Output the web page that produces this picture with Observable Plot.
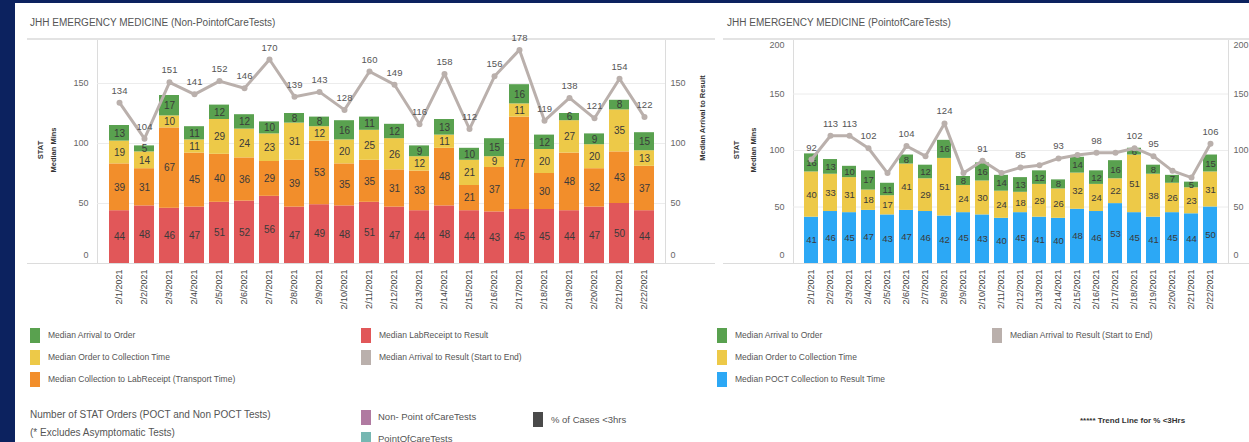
<!DOCTYPE html>
<html><head><meta charset="utf-8">
<script src="https://cdn.jsdelivr.net/npm/d3@7"></script>
<script src="https://cdn.jsdelivr.net/npm/@observablehq/plot@0.6"></script>
<style>
html,body{margin:0;padding:0;}
body{width:1249px;height:442px;overflow:hidden;background:#fff;position:relative;font-family:"Liberation Sans",Arial,sans-serif;color:#555;}
.a{position:absolute;white-space:nowrap;}
.title{font-size:10px;color:#555;}
.sep{background:#e3e3e3;height:2px;}
.ln{background:#dcdcdc;}
.sw{width:10px;height:15px;}
.lg{font-size:8.5px;color:#555;line-height:15px;}
.rot{transform:translate(-50%,-50%) rotate(-90deg);text-align:center;font-weight:bold;font-size:7.5px;color:#333;}
.chart svg{display:block;overflow:visible;}
</style></head><body>
<script>
// ---------- data ----------
const dates = ["2/1/2021","2/2/2021","2/3/2021","2/4/2021","2/5/2021","2/6/2021","2/7/2021","2/8/2021","2/9/2021","2/10/2021","2/11/2021","2/12/2021","2/13/2021","2/14/2021","2/15/2021","2/16/2021","2/17/2021","2/18/2021","2/19/2021","2/20/2021","2/21/2021","2/22/2021"];

// Non-Point-of-Care tests (stack order bottom -> top)
const npSeries = ["Median LabReceipt to Result","Median Collection to LabReceipt (Transport Time)","Median Order to Collection Time","Median Arrival to Order"];
const npLabReceiptToResult = [44,48,46,47,51,52,56,47,49,48,51,47,44,48,44,43,45,45,44,47,50,44];
const npTransport        = [39,31,67,45,40,36,29,39,53,35,35,31,33,48,21,37,77,30,48,32,43,37];
const npOrderToCollection = [19,14,10,11,29,24,23,31,12,20,25,26,12,11,21,9,11,20,27,20,35,13];
const npArrivalToOrder   = [13,5,17,11,12,12,10,8,8,16,11,12,9,13,10,15,16,12,6,9,8,15];
const npArrivalToResult  = [134,104,151,141,152,146,170,139,143,128,160,149,116,158,112,156,178,119,138,121,154,122];

// Point-of-Care tests (stack order bottom -> top)
const pocSeries = ["Median POCT Collection to Result Time","Median Order to Collection Time","Median Arrival to Order"];
const pocCollectionToResult = [41,46,45,47,43,47,46,42,45,43,40,45,41,40,48,46,53,45,41,45,44,50];
const pocOrderToCollection  = [40,33,31,18,17,41,29,51,24,30,24,18,29,26,32,24,22,51,38,26,23,31];
const pocArrivalToOrder     = [16,13,10,17,11,8,12,16,8,16,14,13,12,8,14,12,16,6,8,7,5,15];
const pocArrivalToResult    = [92,113,113,102,80,104,95,124,80,91,80,85,87,93,96,98,98,102,95,82,76,106];
const pocLabeledDates = ["2/1/2021","2/2/2021","2/3/2021","2/4/2021","2/6/2021","2/8/2021","2/10/2021","2/12/2021","2/14/2021","2/16/2021","2/18/2021","2/19/2021","2/22/2021"];

const yTicksNP = [0,50,100,150];
const yTicksPOC = [0,50,100,150,200];

// ---------- styles ----------
const C = {green:"#59a14f", yellow:"#edc948", orange:"#f28e2b", red:"#e15759", blue:"#2ca8f5", gray:"#bab0ac"};
const npColors = [C.red, C.orange, C.yellow, C.green];
const pocColors = [C.blue, C.yellow, C.green];

function buildChart(o) {
  const rows = o.series.flatMap((s, k) => o.dates.map((d, i) => ({date: d, series: s, value: o.values[k][i]})));
  const pts = o.dates.map((d, i) => ({date: d, value: o.line[i]}));
  const lbl = pts.filter(p => o.labeled ? o.labeled.includes(p.date) : true);
  const ymaxTick = Math.max(...o.ticks);
  const inner = o.ticks.filter(t => t > 0 && (t < ymaxTick || ymaxTick < o.ymax));
  const top = o.ticks.filter(t => t === ymaxTick && ymaxTick >= o.ymax);
  const yAxes = [];
  for (const anchor of ["left", "right"]) {
    const base = {anchor, tickSize: 0, tickPadding: anchor === "left" ? 9 : 5, fill: "#666", label: null};
    yAxes.push(Plot.axisY({...base, ticks: inner}));
    yAxes.push(Plot.axisY({...base, ticks: [0], dy: -8}));
    if (top.length) yAxes.push(Plot.axisY({...base, ticks: top, dy: 8}));
  }
  return Plot.plot({
    width: o.width, height: o.height,
    marginLeft: o.x0, marginRight: o.width - o.x1, marginTop: 0, marginBottom: o.height - o.base,
    x: {domain: o.dates, range: [o.x0, o.x1], paddingInner: o.pad, paddingOuter: o.pad / 2, axis: null},
    y: {domain: [0, o.ymax], range: [o.base, o.base - o.ymax * o.k], axis: null},
    color: {domain: o.series, range: o.colors},
    style: {fontFamily: '"Liberation Sans", Arial, sans-serif', fontSize: "9px", color: "#555", background: "transparent", overflow: "visible"},
    marks: [
      Plot.gridY({ticks: o.grid, stroke: "#ececec", strokeOpacity: 1}),
      ...yAxes,
      Plot.axisX({anchor: "bottom", tickRotate: -90, tickSize: 0, tickPadding: 6, textAnchor: "end", fill: "#444", fontSize: 9, label: null}),
      Plot.barY(rows, Plot.stackY({x: "date", y: "value", fill: "series", z: "series", order: o.series})),
      Plot.text(rows, Plot.stackY({x: "date", y: "value", z: "series", order: o.series, text: "value", fill: "#3a3a3a", fontSize: o.fs})),
      Plot.line(pts, {x: "date", y: "value", stroke: C.gray, strokeWidth: 3}),
      Plot.dot(pts, {x: "date", y: "value", fill: C.gray, r: 3}),
      Plot.text(lbl, {x: "date", y: "value", text: "value", dy: -12, fill: "#555", fontSize: 9.5})
    ]
  });
}

function div(cls, css, html) {
  const d = document.createElement("div");
  d.className = "a " + cls;
  Object.assign(d.style, css);
  if (html !== undefined) d.innerHTML = html;
  document.body.appendChild(d);
  return d;
}

// frame
div("", {left: "0px", top: "0px", width: "15px", height: "442px", background: "#0c225f"});
div("", {left: "0px", top: "0px", width: "1249px", height: "3px", background: "#0c225f"});

// titles & separators
div("title", {left: "30px", top: "17px"}, "JHH EMERGENCY MEDICINE (Non-PointofCareTests)");
div("title", {left: "727px", top: "17px"}, "JHH EMERGENCY MEDICINE (PointofCareTests)");
div("sep", {left: "27px", top: "38px", width: "688px"});
div("sep", {left: "723px", top: "38px", width: "526px"});

// axis lines
div("ln", {left: "27px", top: "263px", width: "688px", height: "1px"});
div("ln", {left: "723px", top: "263px", width: "526px", height: "1px"});
div("ln", {left: "97px", top: "40px", width: "1px", height: "223px"});
div("ln", {left: "665px", top: "40px", width: "1px", height: "223px"});
div("ln", {left: "793px", top: "40px", width: "1px", height: "223px"});
div("ln", {left: "1228px", top: "40px", width: "1px", height: "223px"});

// axis titles
div("rot", {left: "47px", top: "150px", lineHeight: "13px"}, "STAT<br>Median Mins");
div("rot", {left: "745px", top: "150px", lineHeight: "17px"}, "STAT<br>Median Mins");
div("rot", {left: "702px", top: "118px"}, "Median Arrival to Result");

// charts
const left = div("chart", {left: "15px", top: "30px", width: "700px", height: "300px"});
left.appendChild(buildChart({
  width: 700, height: 300, x0: 82, x1: 650, base: 233, k: 1.2, ymax: 185, pad: 0.22, fs: 10,
  dates, series: npSeries, colors: npColors,
  values: [npLabReceiptToResult, npTransport, npOrderToCollection, npArrivalToOrder],
  line: npArrivalToResult, ticks: yTicksNP, grid: [50,100,150]
}));
const right = div("chart", {left: "715px", top: "30px", width: "534px", height: "300px"});
right.appendChild(buildChart({
  width: 534, height: 300, x0: 78, x1: 513, base: 233, k: 1.13, ymax: 200, pad: 0.24, fs: 9.5,
  dates, series: pocSeries, colors: pocColors,
  values: [pocCollectionToResult, pocOrderToCollection, pocArrivalToOrder],
  line: pocArrivalToResult, labeled: pocLabeledDates, ticks: yTicksPOC, grid: [50,100,150]
}));

// legends
function legend(x, y, color, text, sw) {
  div("sw", {left: x + "px", top: y + "px", background: color});
  div("lg", {left: (x + (sw || 18)) + "px", top: y + "px"}, text);
}
legend(30, 328, C.green, "Median Arrival to Order");
legend(30, 350, C.yellow, "Median Order to Collection Time");
legend(30, 372, C.orange, "Median Collection to LabReceipt (Transport Time)");
legend(361, 328, C.red, "Median LabReceipt to Result");
legend(361, 350, C.gray, "Median Arrival to Result (Start to End)");
legend(717, 328, C.green, "Median Arrival to Order");
legend(717, 350, C.yellow, "Median Order to Collection Time");
legend(717, 372, C.blue, "Median POCT Collection to Result Time");
legend(992, 328, C.gray, "Median Arrival to Result (Start to End)");

div("", {left: "30px", top: "409px", fontSize: "10px", color: "#555"}, "Number of STAT Orders (POCT and Non POCT Tests)");
div("", {left: "30px", top: "427px", fontSize: "10px", color: "#555"}, "(* Excludes Asymptomatic Tests)");
div("sw", {left: "361px", top: "410px", background: "#b07aa1"});
div("", {left: "378px", top: "411px", fontSize: "9.5px", color: "#555"}, "Non- Point ofCareTests");
div("sw", {left: "361px", top: "432px", background: "#76b7b2"});
div("", {left: "378px", top: "433px", fontSize: "9.5px", color: "#555"}, "PointOfCareTests");
div("sw", {left: "533px", top: "412px", background: "#4a4a4a"});
div("", {left: "551px", top: "414px", fontSize: "9.5px", color: "#555"}, "% of Cases &lt;3hrs");
div("", {left: "1080px", top: "416px", fontSize: "8px", color: "#333", fontWeight: "bold"}, "***** Trend Line for % &lt;3Hrs");
</script>
</body></html>
